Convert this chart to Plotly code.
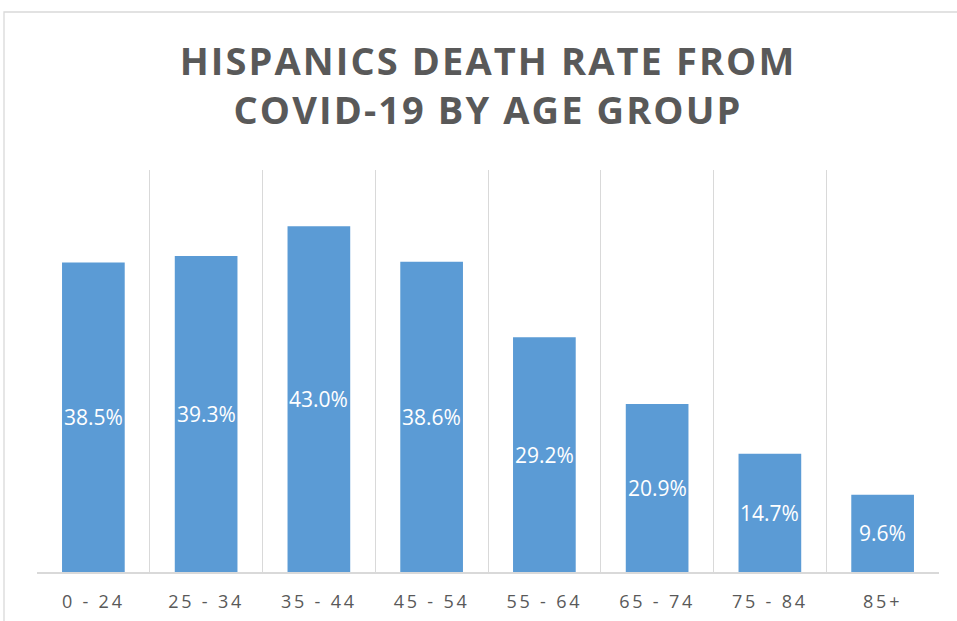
import plotly.graph_objects as go

categories = ["0 - 24", "25 - 34", "35 - 44", "45 - 54", "55 - 64", "65 - 74", "75 - 84", "85+"]
death_rate = [38.5, 39.3, 43.0, 38.6, 29.2, 20.9, 14.7, 9.6]
labels = [f"{v:.1f}%" for v in death_rate]
title_lines = ["HISPANICS DEATH RATE FROM", "COVID-19 BY AGE GROUP"]

BAR = "#5B9BD5"
GRAY = "#595959"
GRID = "#D9D9D9"
FONT = "Open Sans"

W, H = 957, 621
L, R, T, B = 37, 18, 170, 49
pw, ph = W - L - R, H - T - B


def spaced(s, px):
    return f'<span style="letter-spacing:{px}px">{s}</span>'


fig = go.Figure()
fig.add_trace(go.Bar(x=categories, y=death_rate, marker=dict(color=BAR, line=dict(width=0)),
                     hoverinfo="skip"))

# data labels centred inside each bar
for c, v, t in zip(categories, death_rate, labels):
    fig.add_annotation(x=c, y=v / 2, text=t, showarrow=False, xanchor="center",
                       yanchor="middle",
                       font=dict(family=FONT, size=21, color="white"))

# outer chart-area border (left/top edges visible)
fig.add_shape(type="rect", xref="paper", yref="paper",
              x0=(4 - L) / pw, x1=(W + 5 - L) / pw,
              y0=(H - B - (H + 5)) / ph, y1=(H - B - 12) / ph,
              line=dict(color=GRID, width=1.3), fillcolor="rgba(0,0,0,0)", layer="below")

fig.update_layout(
    width=W, height=H,
    margin=dict(l=L, r=R, t=T, b=B),
    paper_bgcolor="white", plot_bgcolor="white",
    showlegend=False,
    bargap=0.444,
    title=dict(text="<br>".join(spaced(t, 2.1) for t in title_lines), x=0.5, xref="paper",
               xanchor="center", y=1 - 75 / H, yref="container", yanchor="middle",
               automargin=False,
               font=dict(family=FONT, size=38, color=GRAY, weight="bold")),
    xaxis=dict(type="category", range=[-0.5, len(categories) - 0.5], automargin=False,
               tickson="boundaries", showgrid=True, gridcolor=GRID, gridwidth=1.3,
               showline=True, linecolor=GRID, linewidth=1.8, ticks="", zeroline=False,
               tickmode="array", tickvals=categories,
               ticktext=[spaced(c, 2.8) for c in categories],
               ticklabelstandoff=12,
               tickfont=dict(family=FONT, size=18, color=GRAY)),
    yaxis=dict(range=[0, 50], visible=False, showgrid=False, zeroline=False, automargin=False),
    font=dict(family=FONT),
)

fig.write_html("out.html")
